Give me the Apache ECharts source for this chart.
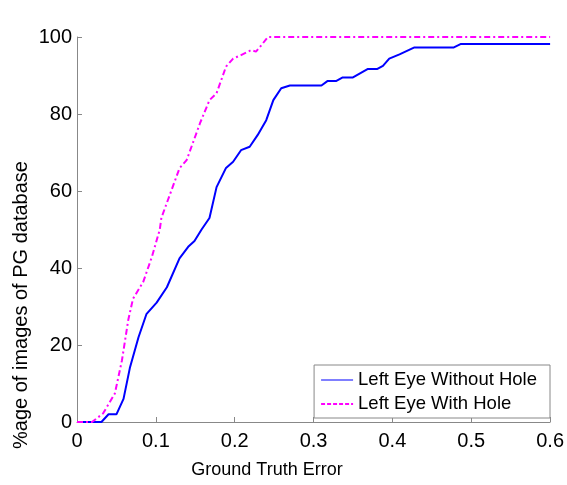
<!DOCTYPE html>
<html>
<head>
<meta charset="utf-8">
<script src="https://cdn.jsdelivr.net/npm/echarts@6/dist/echarts.min.js"></script>
<style>
html, body { margin: 0; padding: 0; background: #fff; }
#chart { width: 567px; height: 485px; }
</style>
</head>
<body>
<div id="chart"></div>
<script>
// series
const withoutHoleX = [0, 0.031, 0.040, 0.050, 0.059, 0.067, 0.078, 0.088, 0.101, 0.114, 0.130, 0.141, 0.149, 0.158, 0.168, 0.177, 0.189, 0.198, 0.208, 0.219, 0.229, 0.240, 0.249, 0.259, 0.270, 0.310, 0.318, 0.329, 0.337, 0.350, 0.369, 0.381, 0.388, 0.396, 0.409, 0.428, 0.478, 0.487, 0.600]
const withoutHoleY = [0, 0, 2, 2, 6, 14, 22, 28, 31, 35, 42.5, 45.5, 47, 50, 53, 61, 66, 67.6, 70.6, 71.5, 74.5, 78.4, 83.6, 86.7, 87.4, 87.4, 88.6, 88.6, 89.5, 89.5, 91.7, 91.7, 92.5, 94.4, 95.5, 97.3, 97.3, 98.2, 98.2]
const withHoleX = [0, 0.019, 0.033, 0.048, 0.057, 0.065, 0.071, 0.084, 0.095, 0.105, 0.107, 0.120, 0.130, 0.139, 0.156, 0.168, 0.177, 0.189, 0.198, 0.208, 0.221, 0.227, 0.234, 0.242, 0.600]
const withHoleY = [0, 0, 2.2, 7.4, 16, 26.5, 32, 36.4, 42.9, 50, 53, 60.3, 65.9, 68, 77.6, 83.6, 85.4, 92.3, 94.4, 95.3, 96.6, 96.2, 97.9, 100, 100]
const seriesNames = ['Left Eye Without Hole', 'Left Eye With Hole']
const xAxisTitle = 'Ground Truth Error'
const yAxisTitle = '%age of images of PG database'

const pairs = (xs, ys) => xs.map((x, i) => [x, ys[i]])

const font = 'Liberation Sans, Arial, sans-serif'
const myChart = echarts.init(document.getElementById('chart'))

const axisCommon = {
	axisLine: { show: true, lineStyle: { color: '#888', width: 1 } },
	axisTick: { show: true, inside: true, length: 5, lineStyle: { color: '#888' } },
	splitLine: { show: false },
}

const option = {
	backgroundColor: '#fff',
	animation: false,
	grid: { left: 77, right: 16, top: 37, bottom: 63 },
	legend: {
		data: [
			{ name: seriesNames[0], lineStyle: { color: '#7f7fff', width: 2 } },
			{ name: seriesNames[1], lineStyle: { color: '#ff00ff', width: 2, type: [4, 2] } },
		],
		orient: 'vertical',
		right: 17,
		bottom: 67,
		itemWidth: 32,
		itemHeight: 10,
		itemGap: 4,
		padding: [5, 13, 4, 6],
		borderColor: '#888',
		borderWidth: 1,
		backgroundColor: '#fff',
		itemStyle: { opacity: 0 },
		textStyle: { color: '#000', fontSize: 18.5, lineHeight: 20, fontFamily: font },
	},
	graphic: [
		{
			type: 'text',
			x: 267,
			y: 470,
			style: { text: xAxisTitle, fill: '#000', font: '18px ' + font, align: 'center', verticalAlign: 'middle' },
		},
		{
			type: 'text',
			x: 21,
			y: 305,
			rotation: Math.PI / 2,
			style: { text: yAxisTitle, fill: '#000', font: '20px ' + font, align: 'center', verticalAlign: 'middle' },
		},
	],
	xAxis: Object.assign({}, axisCommon, {
		type: 'value',
		min: 0,
		max: 0.6,
		interval: 0.1,
		axisLabel: { color: '#000', fontSize: 20, fontFamily: font, margin: 9 },
	}),
	yAxis: Object.assign({}, axisCommon, {
		type: 'value',
		min: 0,
		max: 100,
		interval: 20,
		axisLabel: { color: '#000', fontSize: 20, fontFamily: font, margin: 5 },
	}),
	series: [
		{
			name: seriesNames[0],
			type: 'line',
			data: pairs(withoutHoleX, withoutHoleY),
			showSymbol: false,
			symbol: 'none',
			lineStyle: { color: '#0000ff', width: 2 },
			itemStyle: { color: '#0000ff' },
		},
		{
			name: seriesNames[1],
			type: 'line',
			data: pairs(withHoleX, withHoleY),
			showSymbol: false,
			symbol: 'none',
			lineStyle: { color: '#ff00ff', width: 2, type: [6, 3, 2, 3] },
			itemStyle: { color: '#ff00ff' },
		},
	],
}
myChart.setOption(option)
</script>
</body>
</html>
